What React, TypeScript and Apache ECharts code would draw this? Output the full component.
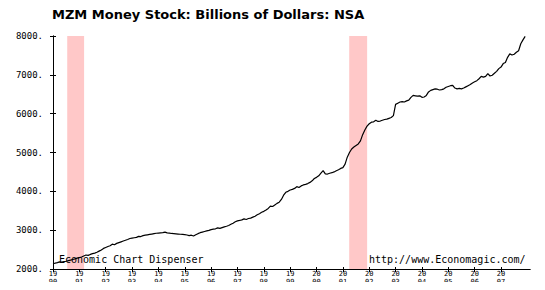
import React, { useEffect, useRef } from "react";
import * as echarts from "echarts";

const titleText = "MZM Money Stock: Billions of Dollars: NSA";
const leftNote = "Economic Chart Dispenser";
const rightNote = "http://www.Economagic.com/";
const startYear = 1990;
const years = [1990, 1991, 1992, 1993, 1994, 1995, 1996, 1997, 1998, 1999, 2000, 2001, 2002, 2003, 2004, 2005, 2006, 2007];
const recessions = [[1990.54, 1991.18], [2001.24, 2001.92]];

// monthly values, billions of dollars
const v1990 = [2140, 2150, 2165, 2185, 2175, 2190, 2200, 2215, 2230, 2245, 2260, 2280];
const v1991 = [2295, 2310, 2335, 2360, 2350, 2375, 2395, 2410, 2430, 2460, 2490, 2530];
const v1992 = [2555, 2580, 2600, 2640, 2625, 2660, 2680, 2700, 2720, 2740, 2760, 2785];
const v1993 = [2795, 2805, 2815, 2840, 2835, 2860, 2870, 2880, 2890, 2900, 2910, 2920];
const v1994 = [2925, 2930, 2935, 2950, 2930, 2925, 2915, 2910, 2905, 2900, 2895, 2890];
const v1995 = [2885, 2875, 2860, 2870, 2850, 2880, 2910, 2935, 2950, 2965, 2980, 2995];
const v1996 = [3015, 3025, 3035, 3060, 3045, 3065, 3085, 3100, 3120, 3150, 3180, 3215];
const v1997 = [3240, 3250, 3265, 3290, 3275, 3300, 3310, 3335, 3360, 3395, 3425, 3460];
const v1998 = [3485, 3520, 3560, 3620, 3610, 3650, 3690, 3720, 3790, 3900, 3975, 4000];
const v1999 = [4035, 4050, 4075, 4120, 4100, 4140, 4165, 4180, 4200, 4230, 4270, 4330];
const v2000 = [4360, 4400, 4470, 4535, 4450, 4445, 4465, 4480, 4500, 4530, 4555, 4590];
const v2001 = [4610, 4700, 4880, 5000, 5090, 5140, 5180, 5220, 5300, 5460, 5580, 5680];
const v2002 = [5740, 5780, 5790, 5830, 5800, 5810, 5830, 5850, 5860, 5880, 5900, 5950];
const v2003 = [6240, 6270, 6300, 6310, 6300, 6330, 6350, 6420, 6470, 6460, 6450, 6460];
const v2004 = [6420, 6430, 6470, 6560, 6600, 6620, 6640, 6630, 6610, 6620, 6640, 6680];
const v2005 = [6700, 6720, 6730, 6660, 6640, 6650, 6640, 6660, 6690, 6720, 6750, 6790];
const v2006 = [6820, 6850, 6900, 6960, 6940, 6960, 7030, 6970, 6990, 7040, 7090, 7160];
const v2007 = [7200, 7290, 7320, 7450, 7540, 7510, 7530, 7580, 7620, 7800, 7900, 7990];

const monthly = [
  ...v1990, ...v1991, ...v1992, ...v1993, ...v1994, ...v1995, ...v1996, ...v1997, ...v1998,
  ...v1999, ...v2000, ...v2001, ...v2002, ...v2003, ...v2004, ...v2005, ...v2006, ...v2007,
];

const MONO = "'DejaVu Sans Mono', 'Liberation Mono', monospace";

export default function App() {
  const ref = useRef<HTMLDivElement>(null);
  useEffect(() => {
    if (!ref.current) return;
    const chart = echarts.init(ref.current, null, { renderer: "svg" });
    const data = monthly.map((v, i) => [startYear + i / 12, v]);
    const xCommon = {
      type: "value",
      min: 1990,
      max: 2008.1,
      interval: 1,
      splitLine: { show: false },
      axisLine: { show: true, onZero: false, lineStyle: { color: "#000", width: 1 } },
    };
    const yCommon = {
      type: "value",
      min: 2000,
      max: 8000,
      interval: 1000,
      splitLine: { show: false },
      axisLine: { show: true, onZero: false, lineStyle: { color: "#000", width: 1 } },
    };
    chart.setOption({
      animation: false,
      backgroundColor: "#fff",
      grid: { left: 53, right: 15, top: 36, bottom: 21, containLabel: false },
      xAxis: [
        {
          ...xCommon,
          axisTick: { show: true, length: 3, customValues: years, lineStyle: { color: "#000" } },
          axisLabel: {
            customValues: years,
            formatter: (v: number) => {
              const s = String(Math.round(v));
              return s.slice(0, 2) + "\n" + s.slice(2);
            },
            fontFamily: MONO,
            fontSize: 7,
            lineHeight: 8,
            color: "#000",
            margin: 1,
          },
        },
        {
          ...xCommon,
          position: "bottom",
          axisTick: { show: true, inside: true, length: 2, customValues: years, lineStyle: { color: "#000" } },
          axisLabel: { show: false },
        },
      ],
      yAxis: [
        {
          ...yCommon,
          axisTick: { show: true, length: 3, lineStyle: { color: "#000" } },
          axisLabel: {
            formatter: (v: number) => v + ".",
            fontFamily: MONO,
            fontSize: 9,
            color: "#000",
            margin: 10,
          },
        },
        {
          ...yCommon,
          position: "left",
          axisTick: { show: true, inside: true, length: 3, lineStyle: { color: "#000" } },
          axisLabel: { show: false },
        },
      ],
      graphic: [
        {
          type: "text",
          left: 52,
          top: 8,
          style: {
            text: titleText,
            font: "bold 13px 'DejaVu Sans', Arial, sans-serif",
            fill: "#000",
          },
        },
        {
          type: "text",
          left: 59,
          top: 254,
          z: 100,
          style: { text: leftNote, font: `10px ${MONO}`, fill: "#000" },
        },
        {
          type: "text",
          left: 369,
          top: 254,
          z: 100,
          style: { text: rightNote, font: `10px ${MONO}`, fill: "#000" },
        },
      ],
      series: [
        {
          type: "line",
          xAxisIndex: 0,
          yAxisIndex: 0,
          data,
          showSymbol: false,
          symbol: "none",
          lineStyle: { color: "#000", width: 1.2 },
          z: 5,
          markArea: {
            silent: true,
            itemStyle: { color: "#FFC8C8", opacity: 1 },
            data: recessions.map(([a, b]) => [{ xAxis: a }, { xAxis: b }]),
          },
        },
      ],
    });
    return () => chart.dispose();
  }, []);
  return <div ref={ref} style={{ width: 545, height: 290, margin: -8 }} />;
}
